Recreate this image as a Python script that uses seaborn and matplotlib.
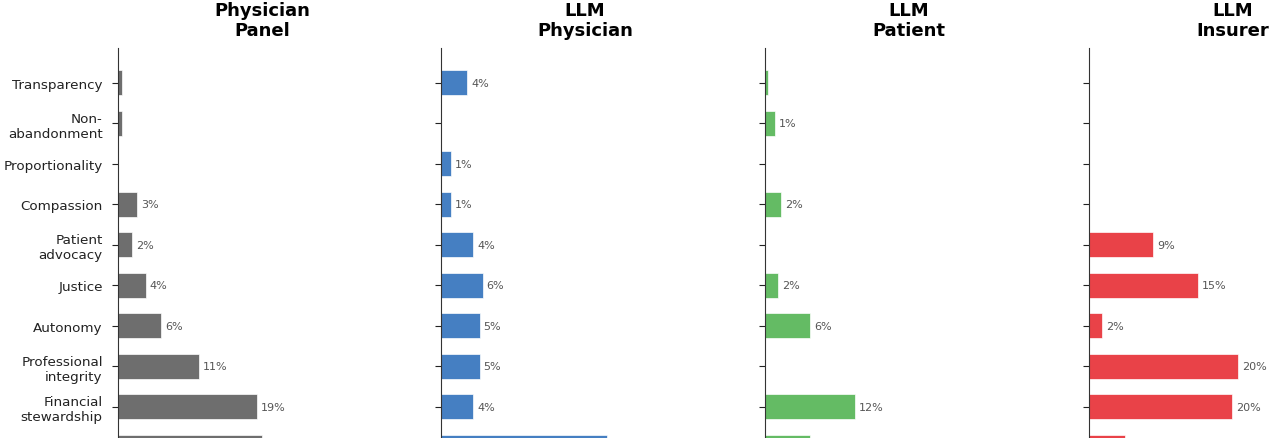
import matplotlib
matplotlib.use("Agg")
import matplotlib.pyplot as plt
import seaborn as sns
import pandas as pd

categories = ["Transparency", "Non-\nabandonment", "Proportionality", "Compassion",
              "Patient\nadvocacy", "Justice", "Autonomy", "Professional\nintegrity",
              "Financial\nstewardship", "Beneficence"]

panel_titles = ["Physician\nPanel", "LLM\nPhysician", "LLM\nPatient", "LLM\nInsurer"]

physician_panel = [0.5, 0.5, 0.0, 2.6, 1.9, 3.8, 5.9, 11.1, 19.0, 19.7]
llm_physician = [3.6, 0.0, 1.4, 1.4, 4.4, 5.7, 5.3, 5.3, 4.4, 22.7]
llm_patient = [0.4, 1.4, 0.0, 2.2, 0.0, 1.8, 6.2, 0.0, 12.3, 6.2]
llm_insurer = [0.0, 0.0, 0.0, 0.0, 8.8, 14.9, 1.8, 20.4, 19.6, 4.9]

series = [physician_panel, llm_physician, llm_patient, llm_insurer]
colors = ["#666666", "#3b78bf", "#5cb85c", "#e8383e"]

sns.set_style("ticks")
plt.rcParams['font.family'] = ['DejaVu Sans']

fig = plt.figure(figsize=(12.8, 4.39), dpi=100)

W, H = 1280.0, 439.0
lefts_px = [118, 441, 765, 1089]
width_px = 288
row_px = 40.5
ytop, ybot = -0.86, 9.6
top_px = 49
height_px = (ybot - ytop) * row_px
n_visible = 9  # last category lies below the cropped bottom edge

for i, (title, vals, col) in enumerate(zip(panel_titles, series, colors)):
    ax = fig.add_axes([lefts_px[i] / W, (H - top_px - height_px) / H, width_px / W, height_px / H])
    df = pd.DataFrame({"category": categories, "value": vals})
    sns.barplot(data=df, y="category", x="value", orient="h", color=col, ax=ax,
                width=0.62, saturation=1, edgecolor="white", linewidth=0.5, alpha=0.95)
    ax.set_xlim(0, 39.5)
    ax.set_ylim(ybot, ytop)
    for j, v in enumerate(vals[:n_visible]):
        if round(v) >= 1:
            ax.text(v + 0.55, j, f"{v:.0f}%", va="center", ha="left", fontsize=8, color="#555555")
    ax.set_title(title, fontweight="bold", fontsize=13, pad=9, color="black")
    ax.set_xlabel("")
    ax.set_ylabel("")
    ax.set_yticks(range(len(categories)))
    if i == 0:
        ax.set_yticklabels(categories[:n_visible] + [""] * (len(categories) - n_visible))
    else:
        ax.set_yticklabels([])
    ax.tick_params(axis="y", labelsize=9.7, length=4, pad=7, color="#222222", labelcolor="#222222")
    ax.set_xticks([])
    sns.despine(ax=ax, top=True, right=True, bottom=True)
    ax.spines["left"].set_color("#333333")

fig.savefig("out.png", dpi=100)
